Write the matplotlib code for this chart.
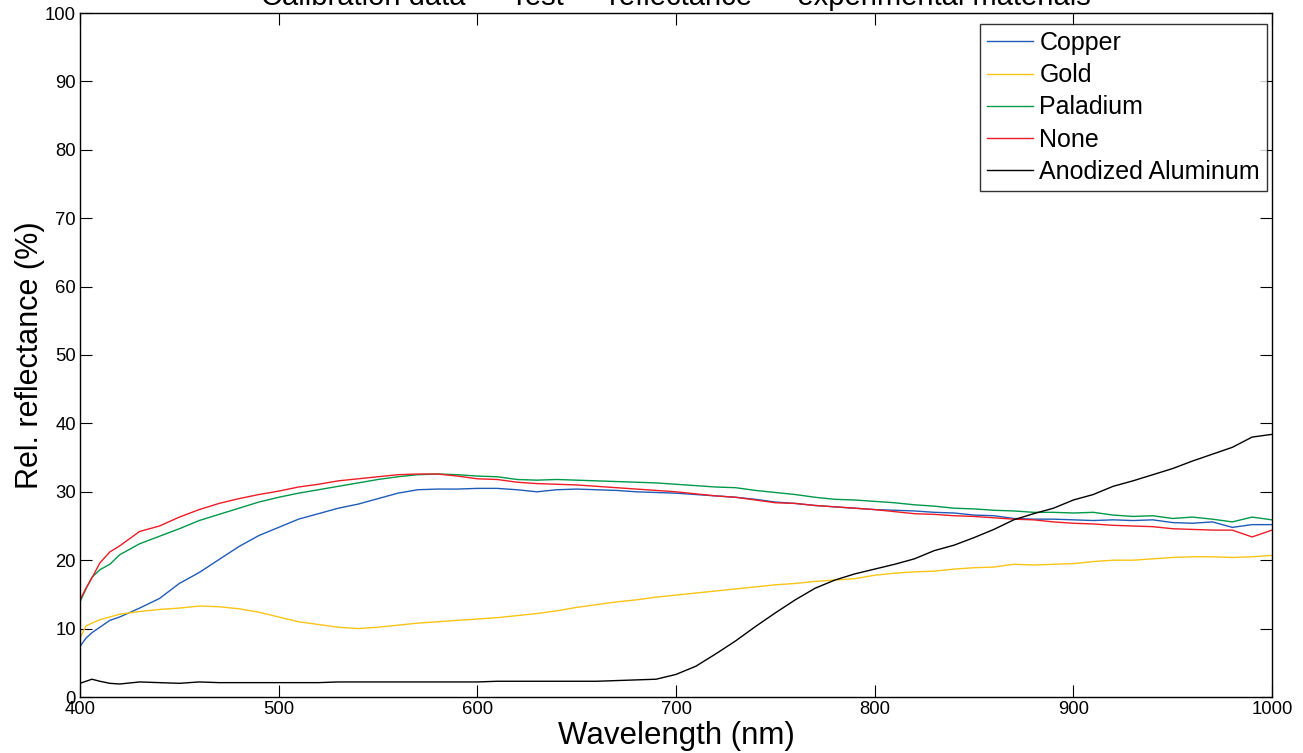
import matplotlib
matplotlib.use("Agg")
import matplotlib.pyplot as plt

plt.rcParams['font.family'] = ['Liberation Sans', 'DejaVu Sans']

title = "Calibration data \u2014 Test \u2014 reflectance \u2014 experimental materials"
xlabel = "Wavelength (nm)"
ylabel = "Rel. reflectance (%)"

wavelength = [400, 403, 406, 410, 415, 420, 430, 440, 450, 460, 470, 480, 490, 500,
              510, 520, 530, 540, 550, 560, 570, 580, 590, 600, 610, 620, 630, 640,
              650, 660, 670, 680, 690, 700, 710, 720, 730, 740, 750, 760, 770, 780,
              790, 800, 810, 820, 830, 840, 850, 860, 870, 880, 890, 900, 910, 920,
              930, 940, 950, 960, 970, 980, 990, 1000]

copper = [7.4, 8.6, 9.4, 10.2, 11.2, 11.7, 13.0, 14.4, 16.6, 18.2, 20.1, 22.0, 23.6, 24.8,
          26.0, 26.8, 27.6, 28.2, 29.0, 29.8, 30.3, 30.4, 30.4, 30.5, 30.5, 30.3, 30.0, 30.3,
          30.4, 30.3, 30.2, 30.0, 29.9, 29.8, 29.6, 29.4, 29.2, 28.9, 28.5, 28.3, 28.0, 27.8,
          27.6, 27.4, 27.3, 27.2, 27.0, 26.9, 26.6, 26.5, 26.1, 26.0, 26.0, 25.9, 25.8, 25.9,
          25.8, 25.9, 25.5, 25.4, 25.6, 24.8, 25.2, 25.2]

gold = [8.6, 10.4, 10.8, 11.3, 11.7, 12.1, 12.5, 12.8, 13.0, 13.3, 13.2, 12.9, 12.4, 11.7,
        11.0, 10.6, 10.2, 10.0, 10.2, 10.5, 10.8, 11.0, 11.2, 11.4, 11.6, 11.9, 12.2, 12.6,
        13.1, 13.5, 13.9, 14.2, 14.6, 14.9, 15.2, 15.5, 15.8, 16.1, 16.4, 16.6, 16.9, 17.1,
        17.3, 17.8, 18.1, 18.3, 18.4, 18.7, 18.9, 19.0, 19.4, 19.3, 19.4, 19.5, 19.8, 20.0,
        20.0, 20.2, 20.4, 20.5, 20.5, 20.4, 20.5, 20.7]

paladium = [13.9, 15.8, 17.5, 18.6, 19.4, 20.8, 22.4, 23.5, 24.6, 25.8, 26.7, 27.6, 28.5, 29.2,
            29.8, 30.3, 30.8, 31.3, 31.8, 32.2, 32.5, 32.6, 32.5, 32.3, 32.2, 31.8, 31.7, 31.8,
            31.7, 31.6, 31.5, 31.4, 31.3, 31.1, 30.9, 30.7, 30.6, 30.2, 29.9, 29.6, 29.2, 28.9,
            28.8, 28.6, 28.4, 28.1, 27.9, 27.6, 27.5, 27.3, 27.2, 27.0, 27.0, 26.9, 27.0, 26.6,
            26.4, 26.5, 26.1, 26.3, 26.0, 25.6, 26.3, 25.9]

none = [14.2, 15.9, 17.4, 19.6, 21.2, 22.1, 24.2, 25.0, 26.3, 27.4, 28.3, 29.0, 29.6, 30.1,
        30.7, 31.1, 31.6, 31.9, 32.2, 32.5, 32.6, 32.6, 32.3, 31.9, 31.8, 31.4, 31.2, 31.1,
        31.0, 30.8, 30.6, 30.4, 30.2, 30.0, 29.7, 29.4, 29.2, 28.8, 28.4, 28.3, 28.0, 27.8,
        27.6, 27.4, 27.1, 26.8, 26.7, 26.5, 26.4, 26.2, 26.0, 25.9, 25.6, 25.4, 25.3, 25.1,
        25.0, 24.9, 24.6, 24.5, 24.4, 24.4, 23.4, 24.4]

anodized = [2.0, 2.3, 2.6, 2.3, 2.0, 1.9, 2.2, 2.1, 2.0, 2.2, 2.1, 2.1, 2.1, 2.1,
            2.1, 2.1, 2.2, 2.2, 2.2, 2.2, 2.2, 2.2, 2.2, 2.2, 2.3, 2.3, 2.3, 2.3,
            2.3, 2.3, 2.4, 2.5, 2.6, 3.3, 4.5, 6.3, 8.2, 10.3, 12.3, 14.2, 15.9, 17.1,
            18.0, 18.7, 19.4, 20.2, 21.4, 22.2, 23.3, 24.5, 25.9, 26.8, 27.6, 28.8, 29.6, 30.8,
            31.6, 32.5, 33.4, 34.5, 35.5, 36.5, 38.0, 38.4]

series_names = ["Copper", "Gold", "Paladium", "None", "Anodized Aluminum"]
series_values = [copper, gold, paladium, none, anodized]
series_colors = ["#1f5cb8", "#f8c417", "#00984a", "#ee1c25", "#000000"]

xticks = [400, 500, 600, 700, 800, 900, 1000]
yticks = [0, 10, 20, 30, 40, 50, 60, 70, 80, 90, 100]

fig = plt.figure(figsize=(13.03, 7.53), dpi=100)
ax = fig.add_axes([80 / 1303, 1 - 697 / 753, 1192 / 1303, 684 / 753])

for name, vals, col in zip(series_names, series_values, series_colors):
    ax.plot(wavelength, vals, color=col, lw=1.0, label=name)

ax.set_xlim(400, 1000)
ax.set_ylim(0, 100)
ax.set_xticks(xticks)
ax.set_yticks(yticks)
ax.tick_params(direction='in', length=8.5, width=0.8, labelsize=13.3, pad=3,
               top=True, right=True, colors='black')
for s in ax.spines.values():
    s.set_linewidth(1.0)

ax.set_xlabel(xlabel, fontsize=22.5)
ax.xaxis.label.set_va('center')
ax.xaxis.set_label_coords(0.5, (697 - 736) / 684)
ax.set_ylabel(ylabel, fontsize=22)
ax.yaxis.label.set_va('center')
ax.yaxis.set_label_coords((30 - 80) / 1192, 0.5)

ax.set_title(title, fontsize=21, pad=5.5)

leg = ax.legend(loc='upper right', bbox_to_anchor=((1267 - 80) / 1192, (697 - 24) / 684),
                borderaxespad=0, fontsize=18, frameon=True, fancybox=False,
                handlelength=1.84, handletextpad=0.24, labelspacing=0.33, borderpad=0.28)
leg.get_frame().set_edgecolor('black')
leg.get_frame().set_linewidth(1.0)
for line in leg.get_lines():
    line.set_linewidth(1.0)

fig.savefig("out.png", dpi=100)
